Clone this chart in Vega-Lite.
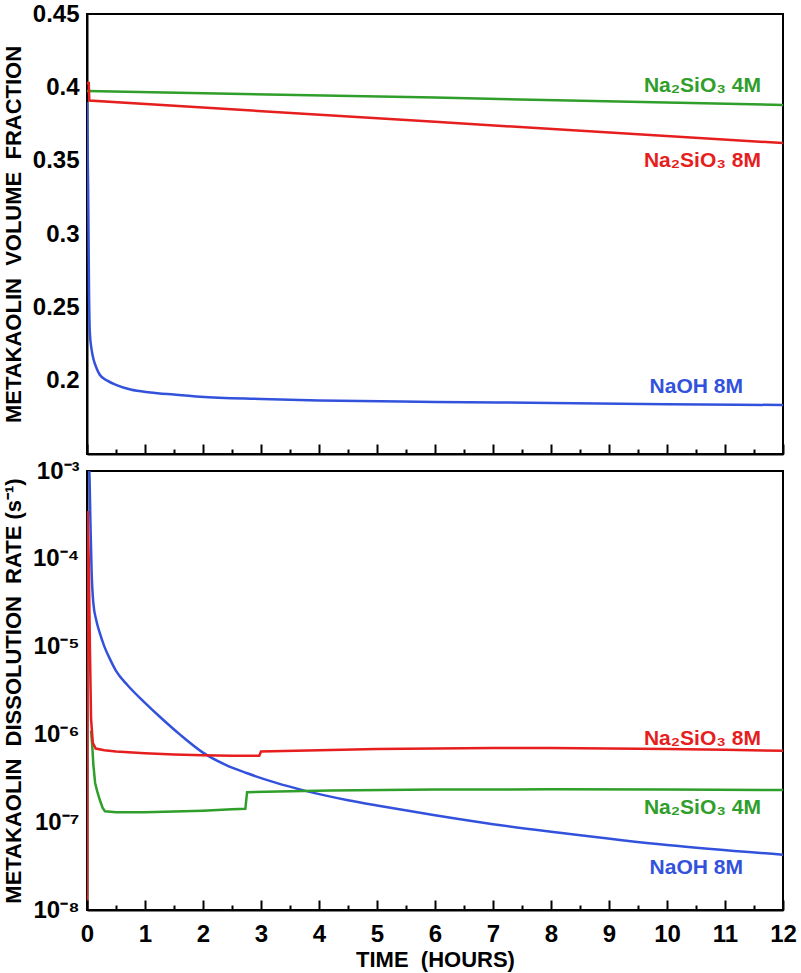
{
  "$schema": "https://vega.github.io/schema/vega-lite/v6.json",
  "background": "white",
  "padding": {"left": 0, "top": 1, "right": 5, "bottom": 2},
  "spacing": 2,
  "config": {
    "font": "Liberation Sans",
    "view": {"stroke": "black", "strokeWidth": 2},
    "axis": {"domainColor": "black", "domainWidth": 2, "grid": false,
      "labelFont": "Liberation Sans", "labelFontWeight": "bold", "labelColor": "black", "labelFlush": false, "labelOverlap": false,
      "titleFont": "Liberation Sans", "titleFontWeight": "bold", "titleColor": "black"}
  },
  "datasets": {
    "vol": [
      {"s": "NaOH 8M", "t": 0, "v": 0.39},
      {"s": "NaOH 8M", "t": 0.02, "v": 0.33},
      {"s": "NaOH 8M", "t": 0.035, "v": 0.26},
      {"s": "NaOH 8M", "t": 0.05, "v": 0.232},
      {"s": "NaOH 8M", "t": 0.08, "v": 0.221},
      {"s": "NaOH 8M", "t": 0.11, "v": 0.215},
      {"s": "NaOH 8M", "t": 0.16, "v": 0.209},
      {"s": "NaOH 8M", "t": 0.22, "v": 0.204},
      {"s": "NaOH 8M", "t": 0.35, "v": 0.2},
      {"s": "NaOH 8M", "t": 0.51, "v": 0.197},
      {"s": "NaOH 8M", "t": 0.75, "v": 0.194},
      {"s": "NaOH 8M", "t": 1.09, "v": 0.192},
      {"s": "NaOH 8M", "t": 1.5, "v": 0.1905},
      {"s": "NaOH 8M", "t": 1.95, "v": 0.189},
      {"s": "NaOH 8M", "t": 3, "v": 0.1875},
      {"s": "NaOH 8M", "t": 4, "v": 0.1865},
      {"s": "NaOH 8M", "t": 6, "v": 0.1855},
      {"s": "NaOH 8M", "t": 8, "v": 0.1848},
      {"s": "NaOH 8M", "t": 10, "v": 0.184},
      {"s": "NaOH 8M", "t": 12, "v": 0.1834},
      {"s": "Na2SiO3 4M", "t": 0, "v": 0.3975},
      {"s": "Na2SiO3 4M", "t": 6, "v": 0.393},
      {"s": "Na2SiO3 4M", "t": 12, "v": 0.388},
      {"s": "Na2SiO3 8M", "t": 0, "v": 0.403},
      {"s": "Na2SiO3 8M", "t": 0.03, "v": 0.403},
      {"s": "Na2SiO3 8M", "t": 0.04, "v": 0.391},
      {"s": "Na2SiO3 8M", "t": 6, "v": 0.3765},
      {"s": "Na2SiO3 8M", "t": 12, "v": 0.362}
    ],
    "volLabels": [
      {"s": "Na2SiO3 4M", "t": 11.62, "v": 0.401, "label": "Na₂SiO₃ 4M"},
      {"s": "Na2SiO3 8M", "t": 11.62, "v": 0.35, "label": "Na₂SiO₃ 8M"},
      {"s": "NaOH 8M", "t": 11.31, "v": 0.1955, "label": "NaOH 8M"}
    ],
    "rate": [
      {"s": "NaOH 8M", "t": 0.03, "v": 0.0012},
      {"s": "NaOH 8M", "t": 0.04, "v": 0.001},
      {"s": "NaOH 8M", "t": 0.06, "v": 0.00025},
      {"s": "NaOH 8M", "t": 0.08, "v": 0.00007},
      {"s": "NaOH 8M", "t": 0.11, "v": 0.000031},
      {"s": "NaOH 8M", "t": 0.16, "v": 0.00002},
      {"s": "NaOH 8M", "t": 0.22, "v": 0.0000143},
      {"s": "NaOH 8M", "t": 0.3, "v": 0.00001},
      {"s": "NaOH 8M", "t": 0.4, "v": 0.0000071},
      {"s": "NaOH 8M", "t": 0.5, "v": 0.0000053},
      {"s": "NaOH 8M", "t": 0.7, "v": 0.00000363},
      {"s": "NaOH 8M", "t": 1.0, "v": 0.00000229},
      {"s": "NaOH 8M", "t": 1.26, "v": 0.00000158},
      {"s": "NaOH 8M", "t": 1.6, "v": 0.000001},
      {"s": "NaOH 8M", "t": 2.0, "v": 0.00000062},
      {"s": "NaOH 8M", "t": 2.4, "v": 0.000000447},
      {"s": "NaOH 8M", "t": 2.75, "v": 0.000000363},
      {"s": "NaOH 8M", "t": 3.25, "v": 0.000000282},
      {"s": "NaOH 8M", "t": 3.75, "v": 0.000000229},
      {"s": "NaOH 8M", "t": 4.5, "v": 0.000000178},
      {"s": "NaOH 8M", "t": 5, "v": 0.000000155},
      {"s": "NaOH 8M", "t": 6, "v": 0.00000012},
      {"s": "NaOH 8M", "t": 7, "v": 0.000000095},
      {"s": "NaOH 8M", "t": 8.15, "v": 0.000000076},
      {"s": "NaOH 8M", "t": 10, "v": 0.000000055},
      {"s": "NaOH 8M", "t": 12, "v": 0.0000000427},
      {"s": "Na2SiO3 4M", "t": 0.07, "v": 0.0000011},
      {"s": "Na2SiO3 4M", "t": 0.09, "v": 0.00000075},
      {"s": "Na2SiO3 4M", "t": 0.11, "v": 0.00000045},
      {"s": "Na2SiO3 4M", "t": 0.14, "v": 0.00000028},
      {"s": "Na2SiO3 4M", "t": 0.18, "v": 0.00000022},
      {"s": "Na2SiO3 4M", "t": 0.22, "v": 0.00000018},
      {"s": "Na2SiO3 4M", "t": 0.27, "v": 0.000000145},
      {"s": "Na2SiO3 4M", "t": 0.31, "v": 0.000000133},
      {"s": "Na2SiO3 4M", "t": 0.5, "v": 0.00000013},
      {"s": "Na2SiO3 4M", "t": 1, "v": 0.00000013},
      {"s": "Na2SiO3 4M", "t": 1.5, "v": 0.000000132},
      {"s": "Na2SiO3 4M", "t": 2, "v": 0.000000135},
      {"s": "Na2SiO3 4M", "t": 2.5, "v": 0.00000014},
      {"s": "Na2SiO3 4M", "t": 2.73, "v": 0.000000142},
      {"s": "Na2SiO3 4M", "t": 2.76, "v": 0.00000022},
      {"s": "Na2SiO3 4M", "t": 3.5, "v": 0.000000225},
      {"s": "Na2SiO3 4M", "t": 4.2, "v": 0.00000023},
      {"s": "Na2SiO3 4M", "t": 6, "v": 0.000000235},
      {"s": "Na2SiO3 4M", "t": 8, "v": 0.000000237},
      {"s": "Na2SiO3 4M", "t": 10, "v": 0.000000235},
      {"s": "Na2SiO3 4M", "t": 12, "v": 0.000000233},
      {"s": "Na2SiO3 8M", "t": 0, "v": 0.00000001},
      {"s": "Na2SiO3 8M", "t": 0.01, "v": 0.00035},
      {"s": "Na2SiO3 8M", "t": 0.03, "v": 0.0001},
      {"s": "Na2SiO3 8M", "t": 0.05, "v": 0.00001},
      {"s": "Na2SiO3 8M", "t": 0.07, "v": 0.0000015},
      {"s": "Na2SiO3 8M", "t": 0.1, "v": 0.0000008},
      {"s": "Na2SiO3 8M", "t": 0.15, "v": 0.00000069},
      {"s": "Na2SiO3 8M", "t": 0.3, "v": 0.00000066},
      {"s": "Na2SiO3 8M", "t": 0.5, "v": 0.00000064},
      {"s": "Na2SiO3 8M", "t": 1, "v": 0.00000061},
      {"s": "Na2SiO3 8M", "t": 1.5, "v": 0.00000059},
      {"s": "Na2SiO3 8M", "t": 2, "v": 0.00000058},
      {"s": "Na2SiO3 8M", "t": 2.5, "v": 0.00000057},
      {"s": "Na2SiO3 8M", "t": 2.97, "v": 0.00000057},
      {"s": "Na2SiO3 8M", "t": 3.0, "v": 0.00000064},
      {"s": "Na2SiO3 8M", "t": 4, "v": 0.00000066},
      {"s": "Na2SiO3 8M", "t": 5, "v": 0.00000068},
      {"s": "Na2SiO3 8M", "t": 6, "v": 0.00000069},
      {"s": "Na2SiO3 8M", "t": 7, "v": 0.0000007},
      {"s": "Na2SiO3 8M", "t": 8, "v": 0.0000007},
      {"s": "Na2SiO3 8M", "t": 9, "v": 0.00000069},
      {"s": "Na2SiO3 8M", "t": 10, "v": 0.00000068},
      {"s": "Na2SiO3 8M", "t": 11, "v": 0.00000067},
      {"s": "Na2SiO3 8M", "t": 12, "v": 0.00000065}
    ],
    "rateLabels": [
      {"s": "Na2SiO3 8M", "t": 11.62, "v": 0.00000088, "label": "Na₂SiO₃ 8M"},
      {"s": "Na2SiO3 4M", "t": 11.62, "v": 0.000000145, "label": "Na₂SiO₃ 4M"},
      {"s": "NaOH 8M", "t": 11.31, "v": 0.0000000297, "label": "NaOH 8M"}
    ]
  },
  "vconcat": [
    {
      "width": 696,
      "height": 440,
      "resolve": {"axis": {"x": "independent"}},
      "encoding": {
        "y": {"field": "v", "type": "quantitative",
          "scale": {"domain": [0.15, 0.45], "nice": false, "zero": false},
          "axis": {"values": [0.2, 0.25, 0.3, 0.35, 0.4, 0.45], "format": "~g", "ticks": false,
            "labelFontSize": 24, "labelPadding": 8,
            "title": "METAKAOLIN\u00a0 VOLUME\u00a0 FRACTION", "titleFontSize": 22, "titleX": -67, "titleBaseline": "alphabetic"}},
        "color": {"field": "s", "type": "nominal",
          "scale": {"domain": ["NaOH 8M", "Na2SiO3 4M", "Na2SiO3 8M"], "range": ["#3352dc", "#2f9e2a", "#e61e1e"]},
          "legend": null}
      },
      "layer": [
        {"data": {"name": "vol"}, "transform": [{"filter": "datum.s === 'NaOH 8M'"}],
          "mark": {"type": "line", "strokeWidth": 2.5, "clip": true, "interpolate": "monotone"},
          "encoding": {"x": {"field": "t", "type": "quantitative", "scale": {"domain": [0, 12], "nice": false, "zero": false},
            "axis": {"orient": "bottom", "values": [0,1,2,3,4,5,6,7,8,9,10,11,12], "labels": false, "title": null,
              "ticks": true, "tickSize": -10, "tickColor": "#000000", "tickWidth": 2, "tickOpacity": 1, "zindex": 2}}}},
        {"data": {"name": "vol"}, "transform": [{"filter": "datum.s === 'Na2SiO3 4M'"}],
          "mark": {"type": "line", "strokeWidth": 2.5, "clip": true},
          "encoding": {"x": {"field": "t", "type": "quantitative", "scale": {"domain": [0, 12], "nice": false, "zero": false},
            "axis": {"orient": "bottom", "values": [0.5,1.5,2.5,3.5,4.5,5.5,6.5,7.5,8.5,9.5,10.5,11.5], "labels": false, "title": null, "domain": false,
              "ticks": true, "tickSize": -5, "tickColor": "#000000", "tickWidth": 2, "tickOpacity": 1, "zindex": 2}}}},
        {"data": {"name": "vol"}, "transform": [{"filter": "datum.s === 'Na2SiO3 8M'"}],
          "mark": {"type": "line", "strokeWidth": 2.5, "clip": true},
          "encoding": {"x": {"field": "t", "type": "quantitative", "scale": {"domain": [0, 12], "nice": false, "zero": false}, "axis": null}}},
        {"data": {"name": "volLabels"},
          "mark": {"type": "text", "align": "right", "baseline": "middle", "fontSize": 21, "fontWeight": "bold", "font": "Liberation Sans"},
          "encoding": {"x": {"field": "t", "type": "quantitative", "scale": {"domain": [0, 12], "nice": false, "zero": false}, "axis": null},
            "text": {"field": "label"}}}
      ]
    },
    {
      "width": 696,
      "height": 439,
      "resolve": {"axis": {"x": "independent"}},
      "encoding": {
        "y": {"field": "v", "type": "quantitative",
          "scale": {"type": "log", "domain": [1e-8, 1e-3], "nice": false},
          "axis": {"values": [1e-8, 1e-7, 1e-6, 1e-5, 1e-4, 1e-3], "ticks": false,
            "labelExpr": "'10⁻' + ['⁰','¹','²','³','⁴','⁵','⁶','⁷','⁸','⁹'][round(-log(datum.value)/LN10)]",
            "labelFontSize": 24, "labelPadding": 8,
            "title": "METAKAOLIN\u00a0 DISSOLUTION\u00a0 RATE (s⁻¹)", "titleFontSize": 22, "titleX": -67, "titleBaseline": "alphabetic"}},
        "color": {"field": "s", "type": "nominal",
          "scale": {"domain": ["NaOH 8M", "Na2SiO3 4M", "Na2SiO3 8M"], "range": ["#3352dc", "#2f9e2a", "#e61e1e"]},
          "legend": null}
      },
      "layer": [
        {"data": {"name": "rate"}, "transform": [{"filter": "datum.s === 'NaOH 8M'"}],
          "mark": {"type": "line", "strokeWidth": 2.5, "clip": true, "interpolate": "monotone"},
          "encoding": {"x": {"field": "t", "type": "quantitative", "scale": {"domain": [0, 12], "nice": false, "zero": false},
            "axis": {"orient": "bottom", "values": [0,1,2,3,4,5,6,7,8,9,10,11,12], "format": "d",
              "ticks": true, "tickSize": -10, "tickColor": "#000000", "tickWidth": 2, "tickOpacity": 1, "zindex": 2,
              "labelFontSize": 24, "labelPadding": 22,
              "title": "TIME\u00a0 (HOURS)", "titleFontSize": 22, "titleY": 56, "titleBaseline": "alphabetic"}}}},
        {"data": {"name": "rate"}, "transform": [{"filter": "datum.s === 'Na2SiO3 4M'"}],
          "mark": {"type": "line", "strokeWidth": 2.5, "clip": true},
          "encoding": {"x": {"field": "t", "type": "quantitative", "scale": {"domain": [0, 12], "nice": false, "zero": false},
            "axis": {"orient": "bottom", "values": [0.5,1.5,2.5,3.5,4.5,5.5,6.5,7.5,8.5,9.5,10.5,11.5], "labels": false, "title": null, "domain": false,
              "ticks": true, "tickSize": -5, "tickColor": "#000000", "tickWidth": 2, "tickOpacity": 1, "zindex": 2}}}},
        {"data": {"name": "rate"}, "transform": [{"filter": "datum.s === 'Na2SiO3 8M'"}],
          "mark": {"type": "line", "strokeWidth": 2.5, "clip": true},
          "encoding": {"x": {"field": "t", "type": "quantitative", "scale": {"domain": [0, 12], "nice": false, "zero": false}, "axis": null}}},
        {"data": {"name": "rateLabels"},
          "mark": {"type": "text", "align": "right", "baseline": "middle", "fontSize": 21, "fontWeight": "bold", "font": "Liberation Sans"},
          "encoding": {"x": {"field": "t", "type": "quantitative", "scale": {"domain": [0, 12], "nice": false, "zero": false}, "axis": null},
            "text": {"field": "label"}}}
      ]
    }
  ]
}
